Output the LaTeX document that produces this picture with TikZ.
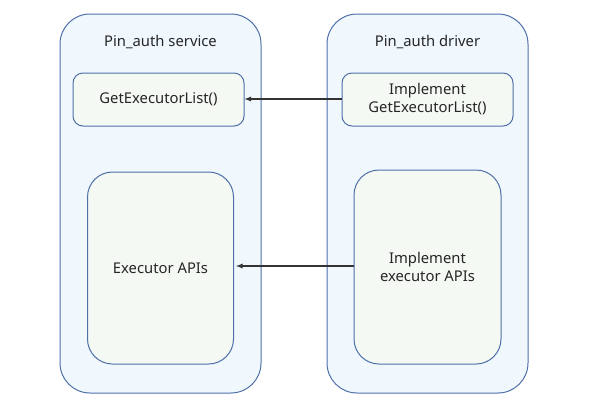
\documentclass[tikz,border=0pt]{standalone}
\usepackage{fontspec}
\setmainfont{Noto Sans}
\definecolor{outerfill}{HTML}{F0F8FE}
\definecolor{innerfill}{HTML}{F5F9F3}
\definecolor{edge}{HTML}{4F6FA8}
\tikzset{
  outerbox/.style={draw=edge, line width=1pt, fill=outerfill, rounded corners=30pt},
  innerbox/.style={draw=edge, line width=1pt, fill=innerfill, rounded corners=#1},
  lbl/.style={font=\fontsize{14.8}{18}\selectfont, align=center, text=black!85},
  arr/.style={-latex, line width=1.3pt, draw=black!80}
}
\begin{document}
\begin{tikzpicture}[x=1pt,y=-1pt]
\useasboundingbox (0,0) rectangle (598,408);
\draw[outerbox] (60,14) rectangle (261,393);
\draw[outerbox] (327,14) rectangle (528,393);
\node[lbl] (t1) at (160.5,42) {Pin\_auth service};
\node[lbl] (t2) at (427.5,42) {Pin\_auth driver};
\node[innerbox=10pt, minimum width=171pt, minimum height=53pt, lbl] (gl) at (158.5,99.5) {GetExecutorList()};
\node[innerbox=10pt, minimum width=171pt, minimum height=53pt, lbl] (gr) at (427.5,99.5) {Implement\\GetExecutorList()};
\node[innerbox=25pt, minimum width=146pt, minimum height=192pt, lbl] (el) at (160.5,268) {Executor APIs};
\node[innerbox=25pt, minimum width=147pt, minimum height=194pt, lbl] (er) at (427.5,267) {Implement\\executor APIs};
\draw[arr] (gr.west |- 0,99) -- (gl.east |- 0,99);
\draw[arr] (er.west |- 0,266) -- (236,266) coordinate (ea);
\end{tikzpicture}
\end{document}
